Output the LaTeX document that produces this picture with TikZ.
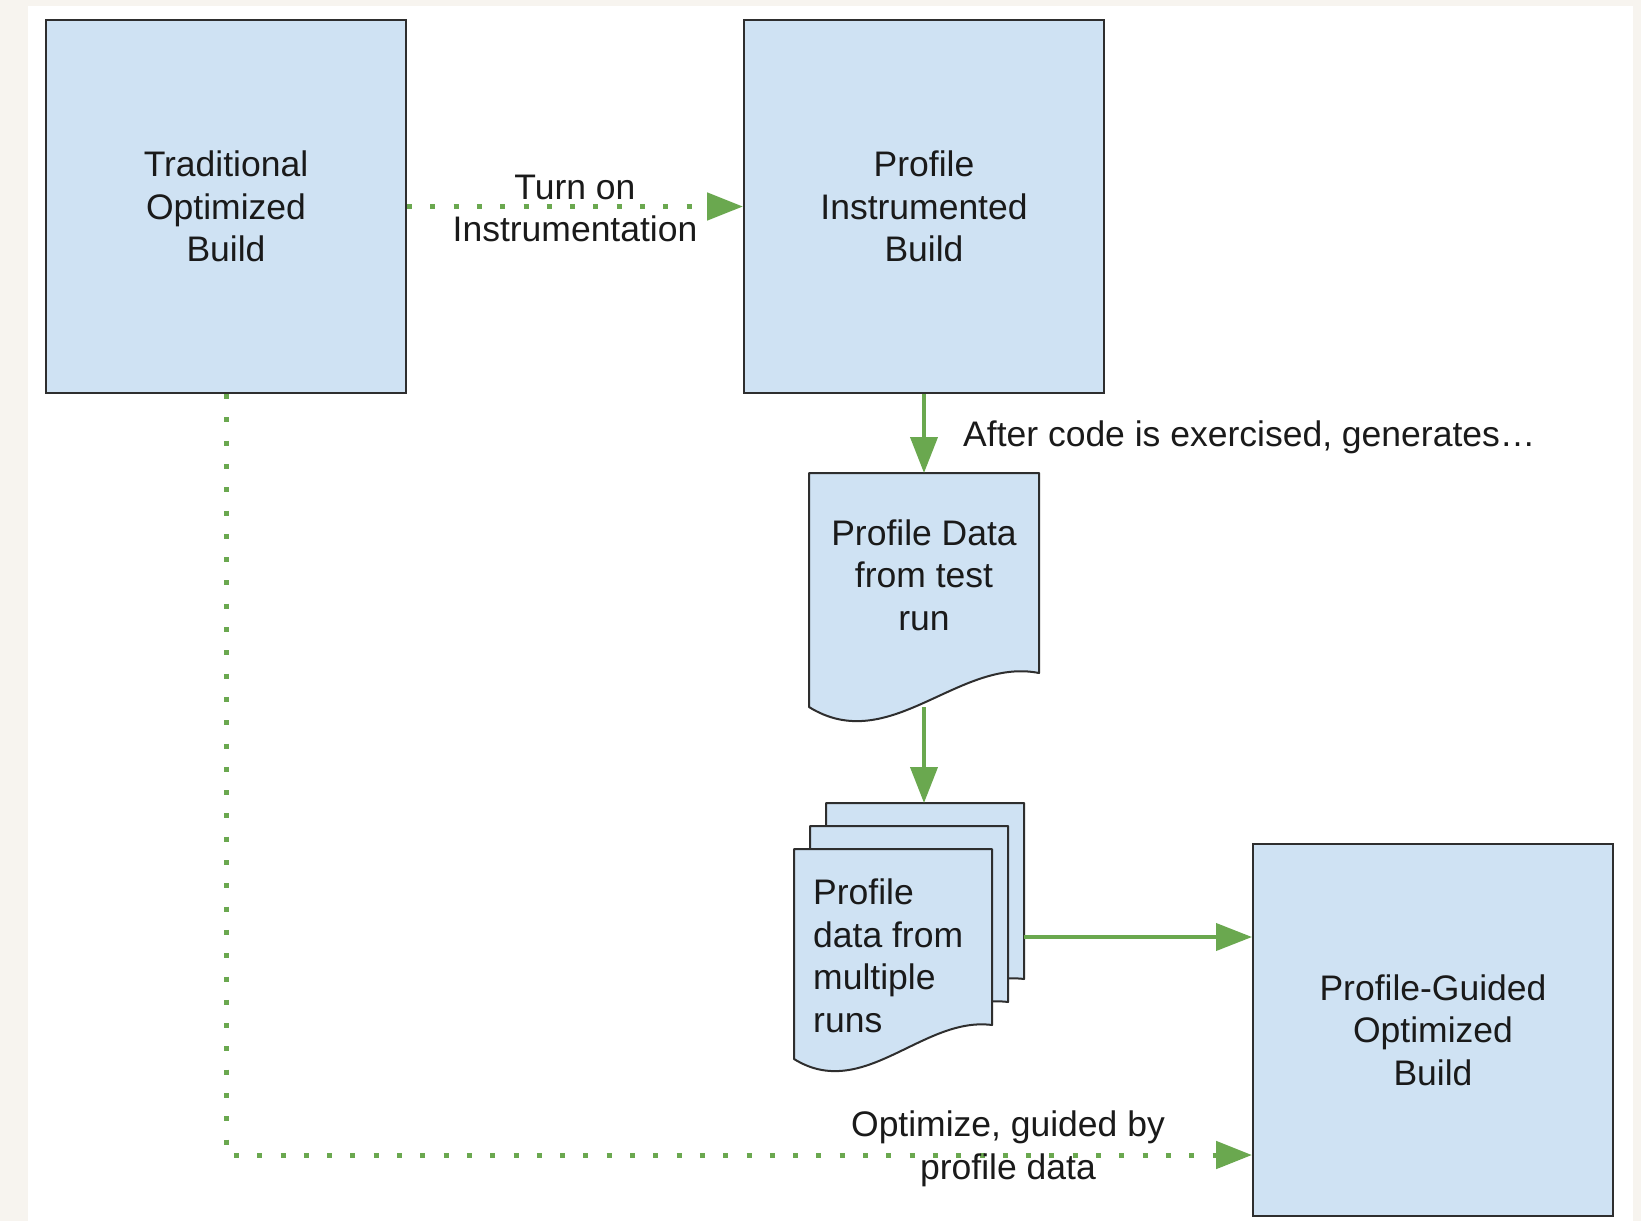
\documentclass[tikz,border=0pt]{standalone}
\usepackage{fontspec}
\setmainfont{Liberation Sans}
\usetikzlibrary{arrows.meta,calc}

\definecolor{pagebg}{HTML}{F7F4EF}
\definecolor{boxfill}{HTML}{CFE2F3}
\definecolor{edgec}{HTML}{2E2E2E}
\definecolor{flowc}{HTML}{6AA84F}
\definecolor{inkc}{HTML}{1A1A1A}

% paper sheet with a wavy lower edge; #1 = area node, #2 = wave amplitude
\newcommand\paperoutline[2]{%
  \filldraw[sheet] (#1.north west) -- (#1.north east) -- ($(#1.south east)+(0,-34)$)
    .. controls ($(#1.south west)!0.65!(#1.south east)+(0,-#2)$)
       and ($(#1.south west)!0.35!(#1.south east)+(0,#2)$) .. (#1.south west) -- cycle;}

\begin{document}
\begin{tikzpicture}[x=1pt,y=-1pt,
  every node/.style={font=\fontsize{35.5}{42.5}\selectfont, text=inkc},
  buildbox/.style={draw=edgec, fill=boxfill, line width=2pt,
    minimum width=360pt, minimum height=373pt, align=center, inner sep=0pt},
  sheetarea/.style={draw=none, anchor=north west, inner sep=0pt, outer sep=0pt},
  sheet/.style={draw=edgec, fill=boxfill, line width=2pt, line join=round},
  flow/.style={draw=flowc, line width=4pt, -{Triangle[length=36pt,width=27pt]}},
  dotflow/.style={draw=flowc, line width=5pt, dash pattern=on 5pt off 18.3pt,
    -{Triangle[length=36pt,width=27pt]}},
  lbl/.style={align=center, inner sep=0pt}]

% page background
\fill[pagebg] (0,0) rectangle (1641,1221);
\fill[white] (28,6) rectangle (1633,1221);
\useasboundingbox (0,0) rectangle (1641,1221);

% build boxes
\node[buildbox] (trad) at (226,206.5) {Traditional\\Optimized\\Build};
\node[buildbox] (pib) at (924,206.5) {Profile\\Instrumented\\Build};
\node[buildbox, minimum height=372pt] (pgo) at (1433,1030) {Profile-Guided\\Optimized\\Build};

% single profile data document
\node[sheetarea, minimum width=230pt, minimum height=234pt] (doc1) at (809,473) {};
\paperoutline{doc1}{50}
\node[lbl] (doc1text) at (924,575) {Profile Data\\from test\\run};

% stack of profile data documents
\node[sheetarea, minimum width=198pt, minimum height=210pt] (back) at (826,803) {};
\node[sheetarea, minimum width=198pt, minimum height=210pt] (mid) at (810,826) {};
\node[sheetarea, minimum width=198pt, minimum height=210pt] (front) at (794,849) {};
\paperoutline{back}{43}
\paperoutline{mid}{43}
\paperoutline{front}{43}
\node[lbl, align=left, anchor=west] (stacktext) at (813,956)
  {Profile\\data from\\multiple\\runs};

% connectors
\draw[dotflow] (trad.east) -- (pib.west);
\node[lbl] (turnon) at ($(trad.east)!0.5!(pib.west)+(0,2)$) {Turn on\\Instrumentation};

\draw[flow] (pib.south) -- (doc1.north);
\node[lbl, anchor=west] (gen) at (963,437) {After code is exercised, generates…};

\draw[flow] (doc1.south) -- (doc1.south |- back.north);

\coordinate (s3) at ($(back.north east)+(0,134)$);
\draw[flow] (s3) -- (s3 -| pgo.west);

\coordinate (g) at ($(pgo.south west)+(0,-62)$);
\draw[dotflow] (trad.south) |- (g);
\node[lbl] (optlbl) at (1008,1149) {Optimize, guided by\\profile data};

\end{tikzpicture}
\end{document}
